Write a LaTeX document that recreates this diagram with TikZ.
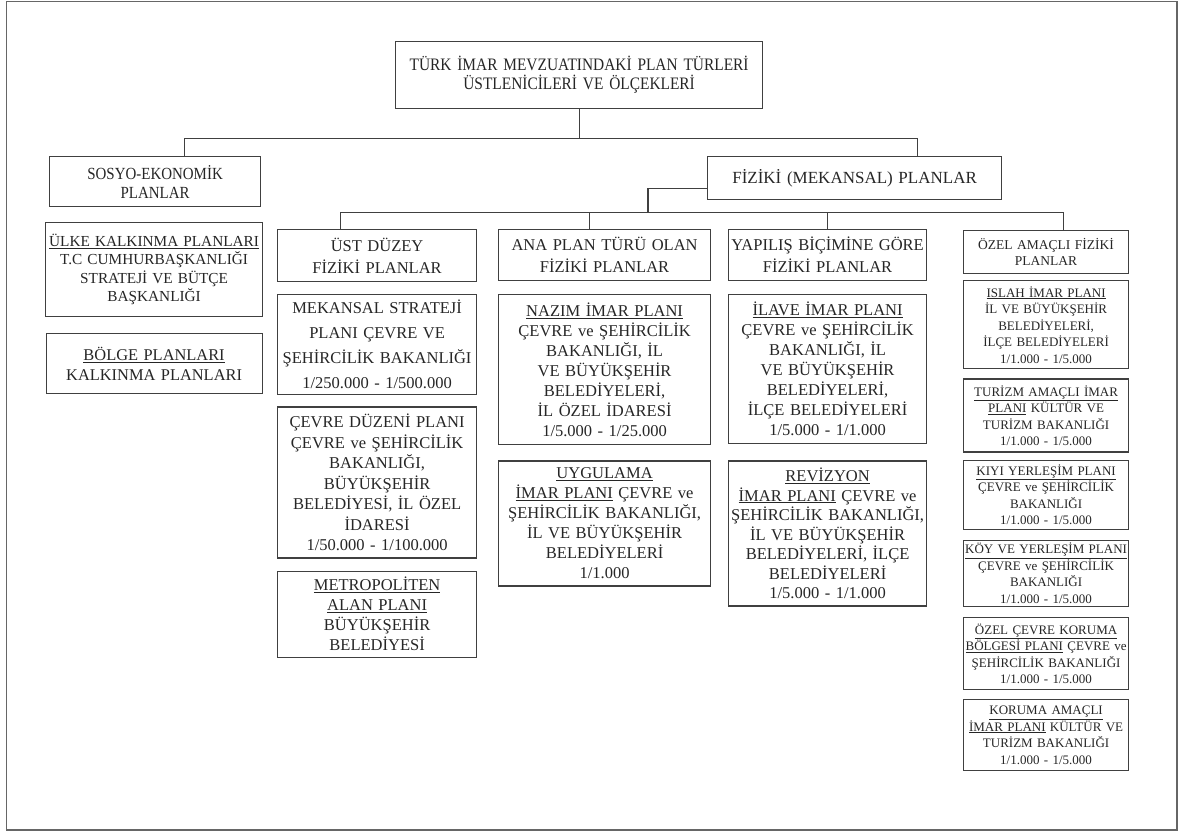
\documentclass[tikz,border=0pt]{standalone}
\usepackage{fontspec}
\setmainfont{Liberation Serif}
\newfontfamily\narrowfont{Liberation Serif}[FakeStretch=0.88]
\usepackage{tikz}
\usetikzlibrary{positioning}

\newcommand{\fsz}[2]{\fontsize{#1}{#2}\selectfont}

\begin{document}
\begin{tikzpicture}[
    x=1pt, y=1pt,
    box/.style={rectangle, draw=black!75, line width=1.2pt, fill=white, text=black!85, inner xsep=2pt, inner ysep=2pt, align=center},
    link/.style={draw=black!75, line width=1.1pt},
    topbox/.style={box, font=\narrowfont\fsz{17.5}{19}},
    groupbox/.style={box, font=\narrowfont\fsz{17}{19}},
    mainbox/.style={box, font=\fsz{17}{20}},
    headbox/.style={box, font=\fsz{16.5}{22}},
    planbox/.style={box, font=\fsz{16.5}{20}},
    smallhead/.style={box, inner xsep=0.5pt, font=\fsz{13.5}{16.5}},
    smallbox/.style={box, inner xsep=0.5pt, font=\fsz{13}{16.5}},
    colA/.style={text width=195pt},
    colB/.style={text width=208pt},
    colC/.style={text width=194pt},
    colD/.style={text width=164pt}
]
\useasboundingbox (0,0) rectangle (1179,-832);
\draw[black!60, line width=1.5pt] (6.5,-1.5) rectangle (1177,-830);

% top levels
\node[topbox, text width=363pt, minimum height=67pt, anchor=north west] (title) at (395,-41)
    {TÜRK İMAR MEVZUATINDAKİ PLAN TÜRLERİ\\ ÜSTLENİCİLERİ VE ÖLÇEKLERİ};
\node[groupbox, text width=207pt, minimum height=50pt, anchor=north west] (sosyo) at (49,-156)
    {SOSYO-EKONOMİK\\ PLANLAR};
\node[mainbox, text width=290pt, minimum height=43pt, anchor=north west] (fiziki) at (707,-156)
    {FİZİKİ (MEKANSAL) PLANLAR};

% socio-economic plans
\node[box, font=\fsz{15.3}{18.5}, text width=213pt, minimum height=94pt, anchor=north west] (ulke) at (45,-222)
    {\underline{ÜLKE KALKINMA PLANLARI}\\ T.C CUMHURBAŞKANLIĞI\\ STRATEJİ VE BÜTÇE\\ BAŞKANLIĞI};
\node[box, font=\fsz{16.4}{19.5}, text width=212pt, minimum height=60pt, below=16pt of ulke] (bolge)
    {\underline{BÖLGE PLANLARI}\\ KALKINMA PLANLARI};

% upper level physical plans
\node[headbox, colA, minimum height=52pt, anchor=north west] (ustduzey) at (277,-229)
    {ÜST DÜZEY\\ FİZİKİ PLANLAR};
\node[planbox, colA, minimum height=100pt, below=12pt of ustduzey, font=\fsz{16.5}{25}] (mekansal)
    {MEKANSAL STRATEJİ\\ PLANI ÇEVRE VE\\ ŞEHİRCİLİK BAKANLIĞI\\ 1/250.000 - 1/500.000};
\node[planbox, colA, minimum height=151pt, below=11pt of mekansal, font=\fsz{16.5}{20.5}] (cevreduzeni)
    {ÇEVRE DÜZENİ PLANI\\ ÇEVRE ve ŞEHİRCİLİK\\ BAKANLIĞI,\\ BÜYÜKŞEHİR\\ BELEDİYESİ, İL ÖZEL\\ İDARESİ\\ 1/50.000 - 1/100.000};
\node[planbox, colA, minimum height=86pt, below=12pt of cevreduzeni] (metropoliten)
    {\underline{METROPOLİTEN}\\ \underline{ALAN PLANI}\\ BÜYÜKŞEHİR\\ BELEDİYESİ};

% main plan types
\node[headbox, colB, minimum height=51pt, anchor=north west] (anaplan) at (498,-229)
    {ANA PLAN TÜRÜ OLAN\\ FİZİKİ PLANLAR};
\node[planbox, colB, minimum height=150pt, below=13pt of anaplan] (nazim)
    {\underline{NAZIM İMAR PLANI}\\ ÇEVRE ve ŞEHİRCİLİK\\ BAKANLIĞI, İL\\ VE BÜYÜKŞEHİR\\ BELEDİYELERİ,\\ İL ÖZEL İDARESİ\\ 1/5.000 - 1/25.000};
\node[planbox, colB, minimum height=125pt, below=15pt of nazim] (uygulama)
    {\underline{UYGULAMA}\\ \underline{İMAR PLANI} ÇEVRE ve\\ ŞEHİRCİLİK BAKANLIĞI,\\ İL VE BÜYÜKŞEHİR\\ BELEDİYELERİ\\ 1/1.000};

% by way of making
\node[headbox, colC, minimum height=51pt, anchor=north west] (yapilis) at (728,-229)
    {YAPILIŞ BİÇİMİNE GÖRE\\ FİZİKİ PLANLAR};
\node[planbox, colC, minimum height=149pt, below=13pt of yapilis] (ilave)
    {\underline{İLAVE İMAR PLANI}\\ ÇEVRE ve ŞEHİRCİLİK\\ BAKANLIĞI, İL\\ VE BÜYÜKŞEHİR\\ BELEDİYELERİ,\\ İLÇE BELEDİYELERİ\\ 1/5.000 - 1/1.000};
\node[planbox, colC, minimum height=145pt, below=16pt of ilave, font=\fsz{16.5}{19.5}] (revizyon)
    {\underline{REVİZYON}\\ \underline{İMAR PLANI} ÇEVRE ve\\ ŞEHİRCİLİK BAKANLIĞI,\\ İL VE BÜYÜKŞEHİR\\ BELEDİYELERİ, İLÇE\\ BELEDİYELERİ\\ 1/5.000 - 1/1.000};

% special purpose plans
\node[smallhead, colD, minimum height=43pt, anchor=north west] (ozel) at (963,-230)
    {ÖZEL AMAÇLI FİZİKİ\\ PLANLAR};
\node[smallbox, colD, minimum height=88pt, below=6pt of ozel] (islah)
    {\underline{ISLAH İMAR PLANI}\\ İL VE BÜYÜKŞEHİR\\ BELEDİYELERİ,\\ İLÇE BELEDİYELERİ\\ 1/1.000 - 1/5.000};
\node[smallbox, colD, minimum height=73pt, below=9pt of islah] (turizm)
    {\underline{TURİZM AMAÇLI İMAR}\\ \underline{PLANI} KÜLTÜR VE\\ TURİZM BAKANLIĞI\\ 1/1.000 - 1/5.000};
\node[smallbox, colD, minimum height=69pt, below=7pt of turizm] (kiyi)
    {\underline{KIYI YERLEŞİM PLANI}\\ ÇEVRE ve ŞEHİRCİLİK\\ BAKANLIĞI\\ 1/1.000 - 1/5.000};
\node[smallbox, colD, minimum height=66pt, below=10pt of kiyi] (koy)
    {\underline{KÖY VE YERLEŞİM PLANI}\\ ÇEVRE ve ŞEHİRCİLİK\\ BAKANLIĞI\\ 1/1.000 - 1/5.000};
\node[smallbox, colD, minimum height=72pt, below=10pt of koy] (ozelcevre)
    {\underline{ÖZEL ÇEVRE KORUMA}\\ \underline{BÖLGESİ PLANI} ÇEVRE ve\\ ŞEHİRCİLİK BAKANLIĞI\\ 1/1.000 - 1/5.000};
\node[smallbox, colD, minimum height=71pt, below=9pt of ozelcevre] (koruma)
    {\underline{KORUMA AMAÇLI}\\ \underline{İMAR PLANI} KÜLTÜR VE\\ TURİZM BAKANLIĞI\\ 1/1.000 - 1/5.000};

% connectors
\draw[link] (title.south) -- ++(0,-29) coordinate (bus1);
\draw[link] ([xshift=29.5pt]sosyo.north) |- (bus1) -| ([xshift=63pt]fiziki.north);
\draw[link] ([yshift=-10.5pt]fiziki.west) -| ++(-59,-24) coordinate (bus2);
\draw[link] ([xshift=-36.5pt]ustduzey.north) |- (bus2) -| ([xshift=17pt]ozel.north);
\draw[link] ([xshift=-15.5pt]anaplan.north) -- ([xshift=-15.5pt]anaplan.north |- bus2);
\draw[link] (yapilis.north) -- (yapilis.north |- bus2);
\end{tikzpicture}
\end{document}
